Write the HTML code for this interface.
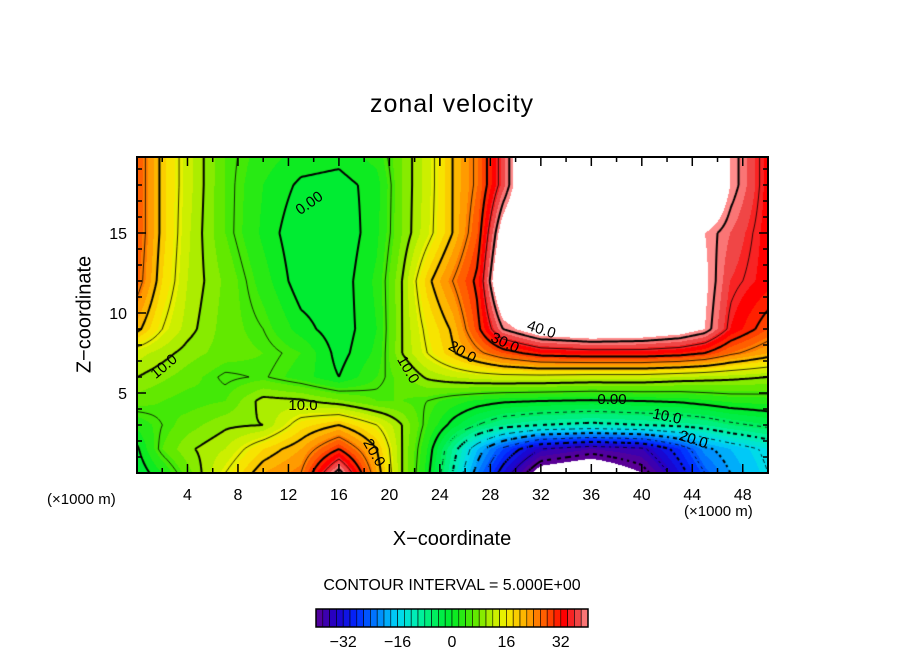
<!DOCTYPE html>
<html><head><meta charset="utf-8"><style>
body{margin:0;background:#fff;width:904px;height:654px;overflow:hidden;position:relative;font-family:"Liberation Sans",sans-serif;}
.t{position:absolute;color:#000;white-space:nowrap;}
</style></head><body>
<div class="t" style="left:0;width:904px;text-align:center;top:90px;font-size:25px;letter-spacing:1px;">zonal velocity</div>
<canvas id="cv" width="631" height="316" style="position:absolute;left:137px;top:157px;"></canvas>
<svg id="ov" width="904" height="654" style="position:absolute;left:0;top:0;"></svg>
<div class="t" style="left:-10px;top:303px;width:190px;text-align:center;font-size:20px;transform:rotate(-90deg);">Z−coordinate</div>
<div class="t" style="left:0;width:904px;text-align:center;top:528px;font-size:20px;">X−coordinate</div>
<div class="t" style="left:47px;top:491px;font-size:15px;">(×1000 m)</div>
<div class="t" style="left:684px;top:503px;font-size:15px;">(×1000 m)</div>
<div class="t" style="left:0;width:904px;text-align:center;top:577px;font-size:16px;">CONTOUR INTERVAL = 5.000E+00</div>
<script>
const xs=[0,2,4,7,10,13,16,19,21,23,25,27,29,32,36,40,43,45,47,50];
const zs=[0,1.5,3,4.5,6,7.5,9,12,15,18,20];
const u0=[-2,2,7,15,22,25,42,22,10,1,-10,-22,-32,-45,-48,-42,-32,-25,-20,-15];
const u1=[-0.5,6,9.5,12,18,22,30,20,10,2,-8,-18,-26,-35,-38,-36,-28,-21,-18,-14];
const u2=[2.5,5,7,9.5,10,17,20,15,10,4,-1,-5,-8,-10,-11,-10,-9,-8,-6,-4];
const u3=[7,6,5,6,11,10.5,8.5,6,6,5,3,1.5,0.5,0,-0.5,0,0.5,1.5,2.5,3];
const u4=[10,8.5,7,4.5,5.3,3,0,4,7,10.5,12,13,13.5,13.5,13,13,12,11.5,11,10];
const u5=[13,11,9,7,6,4,-1,2.5,10,15,19.5,24,28,32,33,33,32,30,26,22];
const u6=[21,15,11,7,5,1,-1.5,2,10,16,20.5,29,40,46,48,47,45,42,34,28];
const u7=[27,18,12,7.5,3,-1.5,-1.5,2.5,10,19,25,31,50,55,55,55,55,43,36,33];
const u8=[28,19,12.5,6,1.5,-2,-2,1.5,8,13.5,20,28,45,55,55,55,55,42,38,33];
const u9=[28,19,13,6,2,-0.5,-1,1,8,13,20,26,37,55,55,55,55,55,42,33];
const u10=[28,19,13,6,3,1.5,1,3,8,13,20,26,37,55,55,55,55,55,42,33];
const rows=[u0,u1,u2,u3,u4,u5,u6,u7,u8,u9,u10];
const xTicks=[4,8,12,16,20,24,28,32,36,40,44,48];
const zTicks=[5,10,15];
const cbTicks=[-32,-16,0,16,32];

const PX0=137,PX1=768,PY0=157,PY1=473,XMAX=50,ZMAX=19.75;
const sx=x=>PX0+(x/XMAX)*(PX1-PX0);
const sz=z=>PY1-(z/ZMAX)*(PY1-PY0);
function seg(a,v){let i=0;while(i<a.length-2&&v>a[i+1])i++;let t=(v-a[i])/(a[i+1]-a[i]);return [i,Math.max(0,Math.min(1,t))];}
function field(x,z){const [i,tx]=seg(xs,x);const [j,tz]=seg(zs,z);
 const a=rows[j][i]*(1-tx)+rows[j][i+1]*tx, b=rows[j+1][i]*(1-tx)+rows[j+1][i+1]*tx;return a*(1-tz)+b*tz;}
const stops=[[-40,[90,0,150]],[-34,[30,0,200]],[-28,[0,40,255]],[-22,[0,130,255]],[-16,[0,215,245]],[-10,[0,240,170]],[-4,[0,238,80]],[0,[0,235,40]],[6,[80,232,0]],[12,[190,238,0]],[16,[245,240,0]],[22,[255,170,0]],[28,[255,80,0]],[33,[255,0,0]],[37,[240,70,70]],[40,[255,140,140]]];
function color(v){if(v>42||v<-42)return[255,255,255];v=Math.floor(v/2)*2+1;v=Math.max(-40,Math.min(40,v));
 for(let k=0;k<stops.length-1;k++){const[a,ca]=stops[k],[b,cb]=stops[k+1];if(v<=b){const t=(v-a)/(b-a);return ca.map((c,i)=>Math.round(c+(cb[i]-c)*t));}}return stops[stops.length-1][1];}
const cv=document.getElementById('cv'),ctx=cv.getContext('2d');
const W=cv.width,H=cv.height,img=ctx.createImageData(W,H);
const xOf=p=>(p+0.5)/W*XMAX, zOf=q=>ZMAX-(q+0.5)/H*ZMAX;
for(let q=0;q<H;q++)for(let p=0;p<W;p++){const c=color(field(xOf(p),zOf(q)));const k=(q*W+p)*4;img.data[k]=c[0];img.data[k+1]=c[1];img.data[k+2]=c[2];img.data[k+3]=255;}
ctx.putImageData(img,0,0);
const S=2,nx=Math.ceil(W/S)+1,nz=Math.ceil(H/S)+1,V=[];
for(let j=0;j<nz;j++){V.push([]);for(let i=0;i<nx;i++)V[j].push(field(Math.min(W,i*S)/W*XMAX,ZMAX-Math.min(H,j*S)/H*ZMAX));}
ctx.strokeStyle='#000';
for(let L=-40;L<=40;L+=5){
 ctx.lineWidth=(L%10===0)?2:0.8;ctx.beginPath();
 for(let j=0;j<nz-1;j++)for(let i=0;i<nx-1;i++){
  const c=[[i,j],[i+1,j],[i+1,j+1],[i,j+1]],pts=[];
  for(let e=0;e<4;e++){const[a1,b1]=c[e],[a2,b2]=c[(e+1)%4];const v1=V[b1][a1]-L,v2=V[b2][a2]-L;
   if((v1<0)!==(v2<0)){const t=v1/(v1-v2);pts.push([(a1+(a2-a1)*t)*S,(b1+(b2-b1)*t)*S]);}}
  if(L<0&&Math.floor((i+j)/2)%2===1)continue;
  for(let k=0;k+1<pts.length;k+=2){ctx.moveTo(pts[k][0],pts[k][1]);ctx.lineTo(pts[k+1][0],pts[k+1][1]);}
 }
 ctx.stroke();
}
const NS='http://www.w3.org/2000/svg',ov=document.getElementById('ov');
function mk(tag,at,par){const e=document.createElementNS(NS,tag);for(const k in at)e.setAttribute(k,at[k]);(par||ov).appendChild(e);return e;}
const fr=mk('rect',{x:PX0,y:PY0,width:PX1-PX0,height:PY1-PY0,fill:'none',stroke:'#000','stroke-width':2});


for(let x=2;x<XMAX;x+=2){const big=x%4===0,l=big?9:5;
 mk('line',{x1:sx(x),x2:sx(x),y1:PY1,y2:PY1-l,stroke:'#000','stroke-width':1.5});
 mk('line',{x1:sx(x),x2:sx(x),y1:PY0,y2:PY0+l,stroke:'#000','stroke-width':1.5});}
for(let z=1;z<ZMAX;z+=1){const big=z%5===0,l=big?9:5;
 mk('line',{x1:PX0,x2:PX0+l,y1:sz(z),y2:sz(z),stroke:'#000','stroke-width':1.5});
 mk('line',{x1:PX1,x2:PX1-l,y1:sz(z),y2:sz(z),stroke:'#000','stroke-width':1.5});}
xTicks.forEach(x=>{const t=mk('text',{x:sx(x),y:500,'text-anchor':'middle','font-size':16,'font-family':'Liberation Sans'});t.textContent=x;
 
 });
zTicks.forEach(z=>{const t=mk('text',{x:127,y:sz(z)+6,'text-anchor':'end','font-size':16,'font-family':'Liberation Sans'});t.textContent=z;
 
 });
const labs=[['0.00',312,207,-35],['10.0',167,370,-40],['10.0',303,410,0],['20.0',370,455,60],['10.0',404,372,60],['20.0',460,356,30],['30.0',503,347,25],['40.0',540,334,18],['0.00',612,404,0],['10.0',666,421,12],['20.0',692,444,18]];
labs.forEach(a=>{const t=mk('text',{x:a[1],y:a[2],'text-anchor':'middle','font-size':15,'font-family':'Liberation Sans',transform:`rotate(${a[3]} ${a[1]} ${a[2]})`});t.textContent=a[0];
 
 });
const CB0=316,CB1=588,CBT=609,CBB=627,cbx=v=>CB0+(v+40)/80*(CB1-CB0);
for(let v=-40;v<40;v+=2){const c=color(v+1);const r=mk('rect',{x:cbx(v),y:CBT,width:cbx(v+2)-cbx(v),height:CBB-CBT,fill:`rgb(${c})`,stroke:'#000','stroke-width':0.6});
 
 }
mk('rect',{x:CB0,y:CBT,width:CB1-CB0,height:CBB-CBT,fill:'none',stroke:'#000','stroke-width':1.5});
cbTicks.forEach(v=>{const t=mk('text',{x:cbx(v),y:647,'text-anchor':'middle','font-size':16,'font-family':'Liberation Sans'});t.textContent=v<0?'−'+(-v):v;
 
 });
</script>
</body></html>
